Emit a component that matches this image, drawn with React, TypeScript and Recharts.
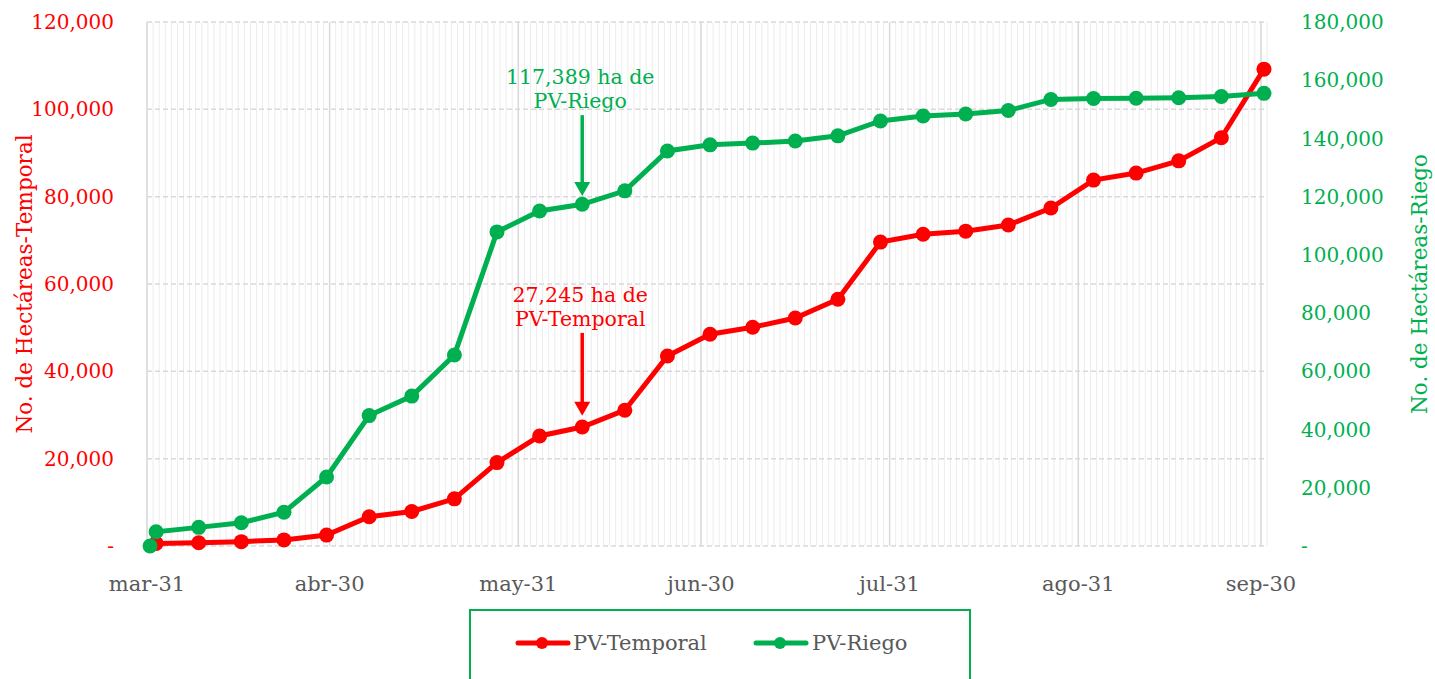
import { CartesianGrid, Legend, Line, LineChart, ReferenceLine, XAxis, YAxis } from "recharts";

const FONT = "'DejaVu Serif', serif";
const RED = "#ff0000";
const GREEN = "#00b050";
const GRAY = "#595959";

// fechas de corte semanales (la primera solo tiene dato de riego)
const dates = [
  "2021-03-31", "2021-04-01", "2021-04-08", "2021-04-15", "2021-04-22", "2021-04-29",
  "2021-05-06", "2021-05-13", "2021-05-20", "2021-05-27", "2021-06-03", "2021-06-10",
  "2021-06-17", "2021-06-24", "2021-07-01", "2021-07-08", "2021-07-15", "2021-07-22",
  "2021-07-29", "2021-08-05", "2021-08-12", "2021-08-19", "2021-08-26", "2021-09-02",
  "2021-09-09", "2021-09-16", "2021-09-23", "2021-09-30",
];
const temporal = [
  null, 600, 750, 1000, 1400, 2500, 6700, 7900, 10800, 19100, 25200, 27245, 31100, 43500,
  48500, 50100, 52200, 56500, 69600, 71400, 72100, 73500, 77400, 83800, 85400, 88200, 93500, 109200,
];
const riego = [
  0, 4900, 6400, 8000, 11600, 23700, 44800, 51500, 65600, 107900, 115100, 117389, 122000, 135700,
  137800, 138400, 139100, 140900, 146000, 147700, 148400, 149600, 153400, 153700, 153800, 154000, 154400, 155500,
];

const tickDates = ["2021-03-31", "2021-04-30", "2021-05-31", "2021-06-30", "2021-07-31", "2021-08-31", "2021-09-30"];
const tickLabels = ["mar-31", "abr-30", "may-31", "jun-30", "jul-31", "ago-31", "sep-30"];
const leftTicks = [0, 20000, 40000, 60000, 80000, 100000, 120000];
const rightTicks = [0, 20000, 40000, 60000, 80000, 100000, 120000, 140000, 160000, 180000];

const BASE = Date.UTC(2021, 2, 31);
const dayOf = (s: string) => Math.round((Date.parse(s + "T00:00:00Z") - BASE) / 86400000);

const data = dates.map((d, i) => ({ x: dayOf(d) + 0.5, temporal: temporal[i], riego: riego[i] }));
const majorDays = tickDates.map(dayOf);
const lastDay = majorDays[majorDays.length - 1] + 1;
const minorDays = Array.from({ length: lastDay + 1 }, (_, i) => i);

const fmt = (v: number) => (v === 0 ? "-" : v.toLocaleString("en-US"));
const labelFor = (v: number) => tickLabels[majorDays.indexOf(v)] ?? "";

const arrowShape = (color: string, lines: string[]) => (p: any) => {
  const { x1, y1, x2, y2 } = p;
  return (
    <g>
      <line x1={x1} y1={y1} x2={x2} y2={y2 - 12} stroke={color} strokeWidth={3.5} />
      <polygon points={`${x2 - 8},${y2 - 14} ${x2 + 8},${y2 - 14} ${x2},${y2}`} fill={color} />
      <text x={x1 - 2} y={y1 - 31} textAnchor="middle" fill={color} fontSize={20.5} fontFamily={FONT}>
        {lines[0]}
      </text>
      <text x={x1 - 2} y={y1 - 7} textAnchor="middle" fill={color} fontSize={20.5} fontFamily={FONT}>
        {lines[1]}
      </text>
    </g>
  );
};

const LegendBox = () => (
  <div
    style={{
      boxSizing: "border-box",
      width: 502,
      height: 80,
      border: `2px solid ${GREEN}`,
      background: "#fff",
      position: "relative",
    }}
  >
    <svg width={498} height={76} style={{ position: "absolute", left: 0, top: 0 }}>
      <line x1={47} y1={32} x2={97} y2={32} stroke={RED} strokeWidth={5} strokeLinecap="round" />
      <circle cx={71} cy={32} r={6} fill={RED} />
      <text x={102} y={39} fill={GRAY} fontSize={21} fontFamily={FONT}>PV-Temporal</text>
      <line x1={285} y1={32} x2={335} y2={32} stroke={GREEN} strokeWidth={5} strokeLinecap="round" />
      <circle cx={309} cy={32} r={6} fill={GREEN} />
      <text x={341} y={39} fill={GRAY} fontSize={21} fontFamily={FONT}>PV-Riego</text>
    </svg>
  </div>
);

const annoX = dayOf("2021-06-10") + 0.5;

export default function App() {
  return (
    <div style={{ position: "absolute", left: 0, top: 0, width: 1435, height: 679, background: "#fff", overflow: "hidden" }}>
      <LineChart
        width={1435}
        height={679}
        data={data}
        margin={{ top: 22, right: 0, bottom: 0, left: 0 }}
        style={{ fontFamily: FONT }}
      >
        <CartesianGrid
          yAxisId="left"
          horizontal={false}
          verticalValues={minorDays}
          stroke="#ececec"
          strokeWidth={1}
        />
        <CartesianGrid
          yAxisId="left"
          horizontal={false}
          verticalValues={majorDays}
          stroke="#d9d9d9"
          strokeWidth={1.5}
        />
        <CartesianGrid
          yAxisId="left"
          vertical={false}
          horizontalValues={leftTicks}
          stroke="#d9d9d9"
          strokeWidth={1.5}
          strokeDasharray="5 3"
        />
        <XAxis
          dataKey="x"
          type="number"
          domain={[0, lastDay]}
          ticks={majorDays}
          tickFormatter={labelFor}
          interval={0}
          height={133}
          axisLine={false}
          tickLine={false}
          tickSize={0}
          tickMargin={30}
          tick={{ fill: GRAY, fontSize: 21 }}
        />
        <YAxis
          yAxisId="left"
          domain={[0, 120000]}
          ticks={leftTicks}
          tickFormatter={fmt}
          width={147}
          axisLine={false}
          tickLine={false}
          tickSize={0}
          tickMargin={33}
          tick={{ fill: RED, fontSize: 20 }}
          label={{
            content: (p: any) => {
              const cy = p.viewBox.y + p.viewBox.height / 2;
              return (
                <text x={24} y={cy} transform={`rotate(-90 24 ${cy})`} textAnchor="middle" dominantBaseline="central" fill={RED} fontSize={21.5}>
                  No. de Hectáreas-Temporal
                </text>
              );
            },
          }}
        />
        <YAxis
          yAxisId="right"
          orientation="right"
          domain={[0, 180000]}
          ticks={rightTicks}
          tickFormatter={fmt}
          width={168}
          axisLine={false}
          tickLine={false}
          tickSize={0}
          tickMargin={34}
          tick={{ fill: GREEN, fontSize: 20 }}
          label={{
            content: (p: any) => {
              const cy = p.viewBox.y + p.viewBox.height / 2;
              return (
                <text x={1419} y={cy} transform={`rotate(-90 1419 ${cy})`} textAnchor="middle" dominantBaseline="central" fill={GREEN} fontSize={21.5}>
                  No. de Hectáreas-Riego
                </text>
              );
            },
          }}
        />
        <Line
          yAxisId="left"
          dataKey="temporal"
          name="PV-Temporal"
          stroke={RED}
          strokeWidth={5}
          dot={{ r: 7.5, fill: RED, stroke: "none" }}
          activeDot={false}
          connectNulls
          isAnimationActive={false}
        />
        <Line
          yAxisId="right"
          dataKey="riego"
          name="PV-Riego"
          stroke={GREEN}
          strokeWidth={5}
          dot={{ r: 7.5, fill: GREEN, stroke: "none" }}
          activeDot={false}
          isAnimationActive={false}
        />
        <ReferenceLine
          yAxisId="right"
          segment={[{ x: annoX, y: 148000 }, { x: annoX, y: 120200 }]}
          shape={arrowShape(GREEN, ["117,389 ha de", "PV-Riego"])}
        />
        <ReferenceLine
          yAxisId="left"
          segment={[{ x: annoX, y: 48800 }, { x: annoX, y: 29800 }]}
          shape={arrowShape(RED, ["27,245 ha de", "PV-Temporal"])}
        />
        <Legend
          layout="horizontal"
          verticalAlign="middle"
          align="center"
          content={() => <LegendBox />}
          wrapperStyle={{ top: 609, left: 469, width: 502, height: 80 }}
        />
      </LineChart>
    </div>
  );
}
